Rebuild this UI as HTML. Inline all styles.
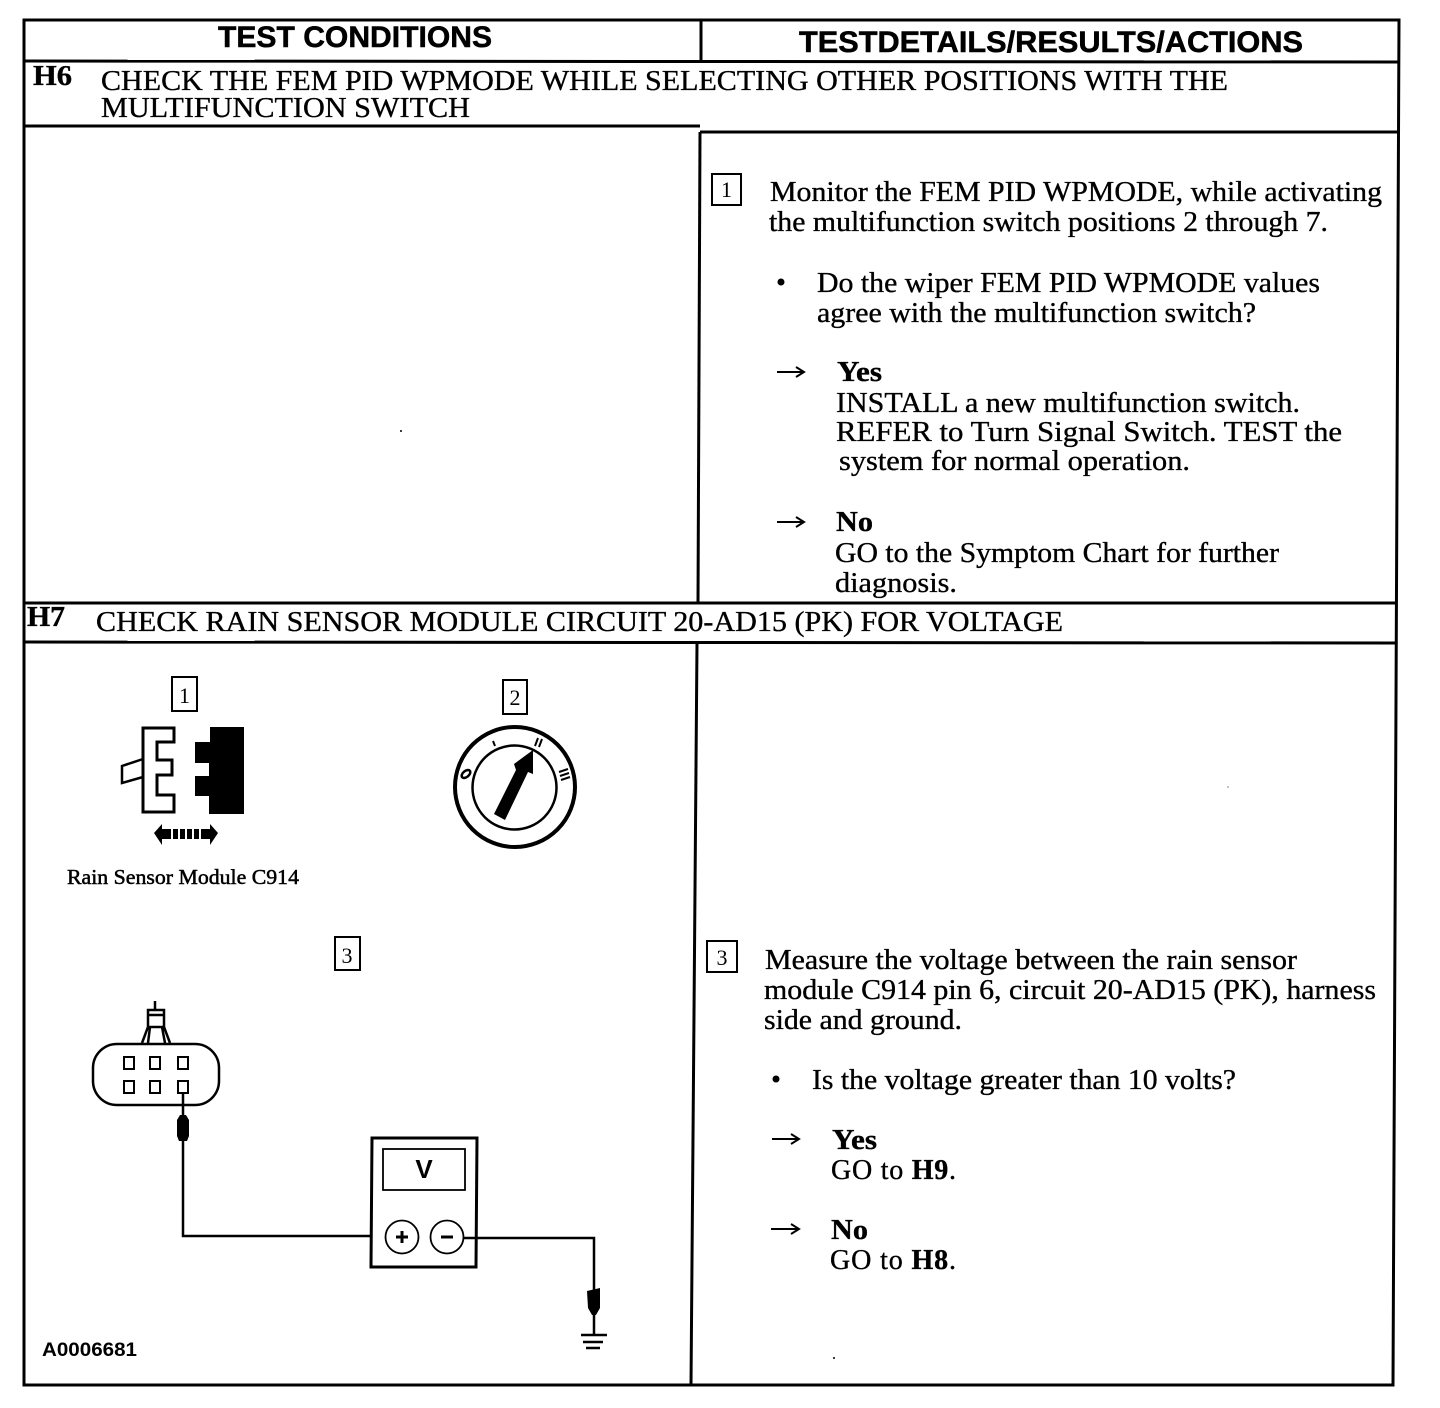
<!DOCTYPE html>
<html><head><meta charset="utf-8"><style>
html,body{margin:0;padding:0;background:#fff;width:1440px;height:1408px;overflow:hidden}
svg{display:block}
.s{font-family:"Liberation Serif",serif;font-size:28px;fill:#000;stroke:#000;stroke-width:.35px}
.b{font-weight:bold}
.h{font-family:"Liberation Sans",sans-serif;font-weight:bold;font-size:30px;fill:#000;stroke:#000;stroke-width:.5px}
.n{font-family:"Liberation Serif",serif;font-size:22px;fill:#000}
.l{stroke:#000;fill:none}
</style></head><body>
<svg width="1440" height="1408" viewBox="0 0 1440 1408" xmlns="http://www.w3.org/2000/svg">
<g class="l" stroke-width="3">
<path d="M24 20H1399L1393 1385H24Z"/>
<path d="M24 61L1399 62"/>
<path d="M24 126L700 126"/>
<path d="M700 132L1398 132"/>
<path d="M24 603L1396 603"/>
<path d="M24 642L1396 643"/>
<path d="M701 20V60"/>
<path d="M700 132L698 603"/>
<path d="M697 643L691 1385"/>
</g>
<text class="h" x="218" y="47" textLength="274" lengthAdjust="spacingAndGlyphs">TEST CONDITIONS</text>
<text class="h" x="799" y="52" textLength="504" lengthAdjust="spacingAndGlyphs">TESTDETAILS/RESULTS/ACTIONS</text>
<text class="s b" x="33" y="85" textLength="39" lengthAdjust="spacingAndGlyphs">H6</text>
<text class="s" x="101" y="90" textLength="1127" lengthAdjust="spacingAndGlyphs">CHECK THE FEM PID WPMODE WHILE SELECTING OTHER POSITIONS WITH THE</text>
<text class="s" x="101" y="117" textLength="369" lengthAdjust="spacingAndGlyphs">MULTIFUNCTION SWITCH</text>

<rect class="l" x="712" y="174" width="29" height="31" stroke-width="2"/>
<text class="n" x="726.5" y="197" text-anchor="middle">1</text>
<text class="s" x="770" y="201" textLength="612" lengthAdjust="spacingAndGlyphs">Monitor the FEM PID WPMODE, while activating</text>
<text class="s" x="769" y="231" textLength="559" lengthAdjust="spacingAndGlyphs">the multifunction switch positions 2 through 7.</text>
<circle cx="781" cy="282" r="3.5" fill="#000"/>
<text class="s" x="817" y="292" textLength="503" lengthAdjust="spacingAndGlyphs">Do the wiper FEM PID WPMODE values</text>
<text class="s" x="817" y="322" textLength="439" lengthAdjust="spacingAndGlyphs">agree with the multifunction switch?</text>
<path class="l" stroke-width="2" d="M777 372H803M796 367L804 372L796 377"/>
<text class="s b" x="837" y="381" textLength="45" lengthAdjust="spacingAndGlyphs">Yes</text>
<text class="s" x="836" y="412" textLength="464" lengthAdjust="spacingAndGlyphs">INSTALL a new multifunction switch.</text>
<text class="s" x="836" y="441" textLength="506" lengthAdjust="spacingAndGlyphs">REFER to Turn Signal Switch. TEST the</text>
<text class="s" x="839" y="470" textLength="351" lengthAdjust="spacingAndGlyphs">system  for normal operation.</text>
<path class="l" stroke-width="2" d="M777 522H803M796 517L804 522L796 527"/>
<text class="s b" x="836" y="531" textLength="37" lengthAdjust="spacingAndGlyphs">No</text>
<text class="s" x="835" y="562" textLength="444" lengthAdjust="spacingAndGlyphs">GO to the Symptom Chart for further</text>
<text class="s" x="835" y="592" textLength="122" lengthAdjust="spacingAndGlyphs">diagnosis.</text>

<text class="s b" x="27" y="626" textLength="38" lengthAdjust="spacingAndGlyphs">H7</text>
<text class="s" x="96" y="631" textLength="967" lengthAdjust="spacingAndGlyphs">CHECK RAIN SENSOR MODULE CIRCUIT 20-AD15 (PK) FOR VOLTAGE</text>

<rect class="l" x="172" y="677" width="25" height="34" stroke-width="2"/>
<text class="n" x="184.5" y="703" text-anchor="middle">1</text>
<path class="l" stroke-width="3" d="M143 728H174V742H157V760H172V775H157V795H174V812H143Z"/>
<path class="l" stroke-width="2.5" d="M143 759L122 766V783L143 777"/>
<path fill="#000" d="M210 727H244V814H209V796H195V776H209V763H195V742H210Z"/>
<path fill="#000" d="M154 833L162 824V829H166V839H162V845Z"/>
<path fill="#000" d="M218 833L210 824V829H206V839H210V845Z"/>
<path d="M166 834H206" stroke="#000" stroke-width="10" stroke-dasharray="5 2" fill="none"/>
<text x="67" y="884" font-family="'Liberation Serif',serif" font-size="21" stroke="#000" stroke-width=".5" textLength="232" lengthAdjust="spacingAndGlyphs">Rain Sensor Module C914</text>

<rect class="l" x="503" y="680" width="24" height="34" stroke-width="2"/>
<text class="n" x="515" y="705" text-anchor="middle">2</text>
<circle class="l" cx="515" cy="787" r="60" stroke-width="4"/>
<circle class="l" cx="514.5" cy="787.5" r="42" stroke-width="2.5"/>
<path fill="#000" d="M494 814L516 770L514 764L533 750L533 774L528 772L505 820Z"/>
<path class="l" stroke-width="2" d="M493 741L495 746"/>
<path class="l" stroke-width="2" d="M535 746L538 738M539 747L542 739"/>
<path class="l" stroke-width="2" d="M559 772L568 769M560 776L569 773M561 780L570 777"/>
<ellipse class="l" cx="466" cy="774" rx="3" ry="5" transform="rotate(50 466 774)" stroke-width="2.5"/>

<rect class="l" x="335" y="937" width="25" height="33" stroke-width="2"/>
<text class="n" x="347" y="963" text-anchor="middle">3</text>
<rect class="l" x="93" y="1044" width="126" height="61" rx="24" stroke-width="2.5"/>
<path class="l" stroke-width="2.5" d="M142 1043L148 1027V1010H164V1027L170 1043M148 1027H164M148 1015H164M155 1010V1001M150 1027L148 1043M162 1027L165 1043"/>
<g class="l" stroke-width="2">
<rect x="124" y="1057" width="10" height="12"/><rect x="150" y="1057" width="10" height="12"/><rect x="178" y="1057" width="10" height="12"/>
<rect x="124" y="1081" width="10" height="12"/><rect x="150" y="1081" width="10" height="12"/><rect x="178" y="1081" width="10" height="12"/>
</g>
<path class="l" stroke-width="2.5" d="M183 1094V1236H372"/>
<path fill="#000" d="M180 1115H186L189 1120V1136L187 1141H179L177 1136V1120Z"/>

<path class="l" stroke-width="3" d="M372 1138H477L476 1267H371Z"/>
<rect class="l" x="383" y="1149" width="82" height="41" stroke-width="1.8"/>
<text x="424" y="1178" text-anchor="middle" font-family="'Liberation Sans',sans-serif" font-weight="bold" font-size="26">V</text>
<circle class="l" cx="402" cy="1237" r="16.5" stroke-width="1.8"/>
<circle class="l" cx="447" cy="1237" r="16.5" stroke-width="1.8"/>
<path class="l" stroke-width="3" d="M396 1237H408M402 1231V1243M441 1237H453"/>
<path class="l" stroke-width="2.5" d="M463 1238H594V1335M581 1335H607"/>
<path class="l" stroke-width="2.5" d="M583 1342H603M586 1348H600"/>
<path fill="#000" d="M587 1291L600 1288V1308L596 1315H592L588 1308Z"/>
<text x="42" y="1356" font-family="'Liberation Sans',sans-serif" font-size="19" font-weight="bold" textLength="95" lengthAdjust="spacingAndGlyphs">A0006681</text>

<rect class="l" x="707" y="941" width="30" height="31" stroke-width="2"/>
<text class="n" x="722" y="965" text-anchor="middle">3</text>
<text class="s" x="765" y="969" textLength="532" lengthAdjust="spacingAndGlyphs">Measure the voltage between the rain sensor</text>
<text class="s" x="764" y="999" textLength="612" lengthAdjust="spacingAndGlyphs">module C914 pin 6, circuit 20-AD15 (PK), harness</text>
<text class="s" x="764" y="1029" textLength="198" lengthAdjust="spacingAndGlyphs">side and ground.</text>
<circle cx="776" cy="1079" r="3.5" fill="#000"/>
<text class="s" x="812" y="1089" textLength="424" lengthAdjust="spacingAndGlyphs">Is the voltage greater than 10 volts?</text>
<path class="l" stroke-width="2" d="M772 1139H798M791 1134L799 1139L791 1144"/>
<text class="s b" x="832" y="1149" textLength="45" lengthAdjust="spacingAndGlyphs">Yes</text>
<text class="s" x="831" y="1179" textLength="125">GO to <tspan class="b">H9</tspan>.</text>
<path class="l" stroke-width="2" d="M771 1229H798M791 1224L799 1229L791 1234"/>
<text class="s b" x="831" y="1239" textLength="37" lengthAdjust="spacingAndGlyphs">No</text>
<text class="s" x="830" y="1269" textLength="126">GO to <tspan class="b">H8</tspan>.</text>
<circle cx="401" cy="431" r="1" fill="#000"/>
<circle cx="834" cy="1358" r="1" fill="#000"/>
<circle cx="1228" cy="787" r="0.6" fill="#333"/>
</svg>
</body></html>
